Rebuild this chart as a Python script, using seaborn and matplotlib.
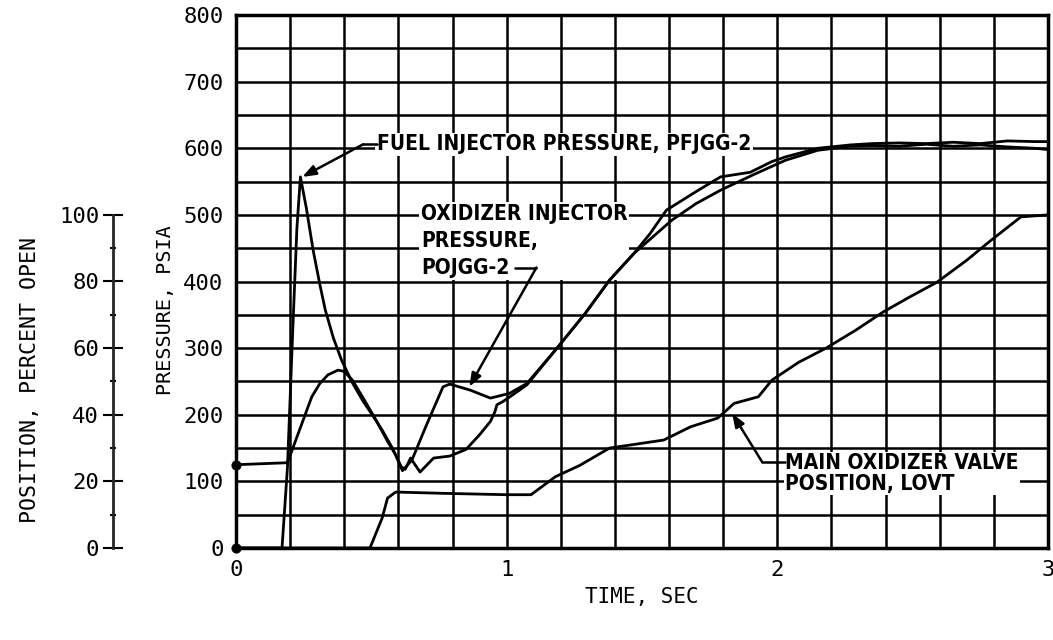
import numpy as np
import pandas as pd
import seaborn as sns
import matplotlib.pyplot as plt

# time in sec, pressure in psia, valve position in percent open
fuel_t = [0.0, 0.17, 0.19, 0.21, 0.225, 0.238, 0.26, 0.285, 0.31, 0.33, 0.36, 0.39, 0.43, 0.47, 0.50,
          0.54, 0.575, 0.61, 0.625, 0.645, 0.68, 0.73, 0.79, 0.85, 0.90, 0.94, 0.957, 0.964, 0.987, 1.03,
          1.075, 1.19, 1.29, 1.38, 1.47, 1.61, 1.70, 1.79, 1.91, 2.03, 2.15, 2.27, 2.35, 2.45, 2.55,
          2.65, 2.75, 2.85, 2.95, 3.0]
fuel_p = [0, 0, 120, 330, 480, 557, 510, 447, 395, 357, 315, 282, 248, 220, 202,
          177, 152, 122, 118, 135, 114, 135, 138, 148, 170, 190, 205, 215, 220, 232,
          245, 302, 352, 402, 442, 492, 517, 537, 560, 582, 597, 603, 604, 603, 606,
          603, 605, 602, 600, 598]

oxid_t = [0.0, 0.19, 0.21, 0.23, 0.26, 0.28, 0.31, 0.34, 0.377, 0.40, 0.43, 0.47, 0.52, 0.56, 0.59,
          0.615, 0.65, 0.70, 0.765, 0.79, 0.865, 0.94, 1.01, 1.075, 1.19, 1.29, 1.38, 1.47, 1.53, 1.59,
          1.70, 1.79, 1.90, 1.98, 2.03, 2.15, 2.27, 2.35, 2.45, 2.55, 2.65, 2.75, 2.85, 2.95, 3.0]
oxid_p = [125, 128, 150, 172, 205, 227, 247, 260, 267, 265, 252, 225, 190, 160, 140,
          116, 132, 181, 242, 246, 237, 225, 232, 247, 302, 352, 402, 442, 472, 507,
          535, 557, 564, 580, 587, 600, 605, 607, 608, 607, 609, 607, 611, 610, 610]

valve_t = [0.0, 0.495, 0.52, 0.54, 0.56, 0.59, 0.77, 1.0, 1.09, 1.18, 1.27, 1.38, 1.58, 1.68, 1.78,
           1.84, 1.93, 1.98, 2.08, 2.18, 2.29, 2.39, 2.49, 2.59, 2.70, 2.79, 2.90, 3.0]
valve_pct = [0, 0, 5, 9, 15, 16.8, 16.4, 16, 16, 21.4, 24.8, 30, 32.4, 36.4, 39,
             43.4, 45.4, 50.4, 55.8, 60, 65.4, 70.8, 75.4, 79.8, 86.4, 92.4, 99.4, 100]

PSI_PER_PCT = 5.0   # 100 percent open sits at 500 psia on the chart

sns.set_style("white")
plt.rcParams['font.family'] = ['DejaVu Sans']
plt.rcParams['font.stretch'] = 'condensed'
for key in ('text.color', 'axes.labelcolor', 'xtick.color', 'ytick.color'):
    plt.rcParams[key] = 'black'

MONO = 'DejaVu Sans Mono'

fig = plt.figure(figsize=(10.53, 6.40), dpi=100)
ax = fig.add_axes([236 / 1053, 1 - 548 / 640, 812 / 1053, 533 / 640])

fuel = pd.DataFrame({'t': fuel_t, 'p': fuel_p})
oxid = pd.DataFrame({'t': oxid_t, 'p': oxid_p})
valve = pd.DataFrame({'t': valve_t, 'p': np.array(valve_pct) * PSI_PER_PCT})

for df in (fuel, oxid, valve):
    sns.lineplot(data=df, x='t', y='p', ax=ax, color='black', lw=2.0,
                 estimator=None, sort=False, zorder=4)

# start markers on the pressure axis
sns.scatterplot(x=[fuel_t[0], oxid_t[0]], y=[fuel_p[0], oxid_p[0]], ax=ax,
                color='black', s=45, zorder=5, clip_on=False, edgecolor='black')

ax.set_xlim(0, 3)
ax.set_ylim(0, 800)
ax.set_xticks([0, 1, 2, 3])
ax.set_yticks(range(0, 801, 100))
ax.set_xticks(np.arange(0, 3.01, 0.2), minor=True)
ax.set_yticks(range(0, 801, 50), minor=True)
ax.grid(which='both', color='black', lw=1.8)
ax.tick_params(which='both', length=0, labelsize=16)
ax.tick_params(axis='x', pad=9)
ax.tick_params(axis='y', pad=9)
for lab in ax.get_xticklabels() + ax.get_yticklabels():
    lab.set_family(MONO)
for s in ax.spines.values():
    s.set_color('black')
    s.set_linewidth(2.5)
ax.set_xlabel('')
ax.set_ylabel('')

# position scale on the left
sec = ax.secondary_yaxis(-0.1515, functions=(lambda p: p / PSI_PER_PCT, lambda q: q * PSI_PER_PCT))
sec.set_yticks(range(0, 101, 20))
sec.set_yticks(range(10, 100, 20), minor=True)
sec.spines['left'].set_bounds(0, 100)
sec.spines['left'].set_linewidth(2)
sec.tick_params(which='major', direction='inout', length=14, width=1.5, labelsize=16, pad=3)
sec.tick_params(which='minor', direction='inout', length=5, width=1.5)
for lab in sec.get_yticklabels():
    lab.set_family(MONO)

fig.text(642 / 1053, 1 - 597 / 640, 'TIME, SEC', ha='center', va='center', fontsize=15, family=MONO)
fig.text(165 / 1053, 1 - 310 / 640, 'PRESSURE, PSIA', rotation=90, ha='center', va='center',
         fontsize=14.5, family=MONO)
fig.text(30 / 1053, 1 - 380 / 640, 'POSITION, PERCENT OPEN', rotation=90, ha='center', va='center',
         fontsize=15.5, family=MONO)

box = dict(fc='white', ec='none', pad=1)
ann = dict(fontsize=15, fontweight='bold', ha='left', va='center', bbox=box, zorder=3)
arrow = dict(arrowstyle='-|>,head_length=0.8,head_width=0.3', color='black', lw=1.8, shrinkA=0, shrinkB=0)

ax.text(0.52, 606, 'FUEL INJECTOR PRESSURE, PFJGG-2', **ann)
ax.plot([0.52, 0.47], [606, 606], color='black', lw=1.8, zorder=4)
ax.annotate('', xy=(0.245, 557), xytext=(0.47, 606), arrowprops=arrow, zorder=4)

ax.text(0.683, 461, 'OXIDIZER INJECTOR\nPRESSURE,\nPOJGG-2', linespacing=1.45, **ann)
ax.plot([1.03, 1.11], [421, 421], color='black', lw=1.8, zorder=4)
ax.annotate('', xy=(0.862, 242), xytext=(1.11, 421), arrowprops=arrow, zorder=4)

ax.text(2.03, 112, 'MAIN OXIDIZER VALVE\nPOSITION, LOVT', linespacing=1.05, **ann)
ax.plot([2.03, 1.944], [129, 129], color='black', lw=1.8, zorder=4)
ax.annotate('', xy=(1.833, 202), xytext=(1.944, 129), arrowprops=arrow, zorder=4)

fig.savefig('out.png', dpi=100, facecolor='white')
